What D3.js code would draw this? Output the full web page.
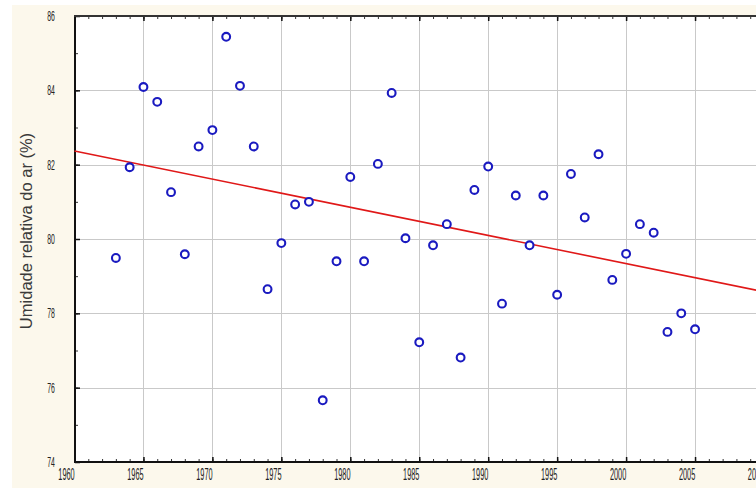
<!DOCTYPE html>
<html>
<head>
<meta charset="utf-8">
<script src="https://cdn.jsdelivr.net/npm/d3@7"></script>
<style>
  html, body { margin: 0; padding: 0; background: #ffffff; }
  svg { display: block; }
</style>
</head>
<body>
<svg id="chart" width="756" height="488"></svg>
<script>
// Annual mean relative humidity, 1963–2005
const years = [
  1963, 1964, 1965, 1966, 1967, 1968, 1969, 1970, 1971, 1972,
  1973, 1974, 1975, 1976, 1977, 1978, 1979, 1980, 1981, 1982,
  1983, 1984, 1985, 1986, 1987, 1988, 1989, 1990, 1991, 1992,
  1993, 1994, 1995, 1996, 1997, 1998, 1999, 2000, 2001, 2002,
  2003, 2004, 2005
];
const humidity = [
  79.49, 81.93, 84.09, 83.69, 81.26, 79.59, 82.49, 82.93, 85.44, 84.12,
  82.49, 78.65, 79.89, 80.93, 81.00, 75.66, 79.40, 81.67, 79.40, 82.02,
  83.93, 80.02, 77.22, 79.83, 80.40, 76.81, 81.32, 81.95, 78.26, 81.17,
  79.83, 81.17, 78.50, 81.75, 80.58, 82.28, 78.90, 79.60, 80.40, 80.17,
  77.50, 78.00, 77.57
];
// Linear trend line end points
const trendYears = [1960, 2010];
const trendValues = [82.37, 78.58];

const xTicks = [1960, 1965, 1970, 1975, 1980, 1985, 1990, 1995, 2000, 2005, 2010];
const yTicks = [74, 76, 78, 80, 82, 84, 86];
const yTitle = "Umidade relativa do ar (%)";

const svg = d3.select("#chart");
const W = 756, H = 488;
const plotLeft = 75, plotTop = 16, plotBottom = 462;

const x = d3.scaleLinear().domain([1960, 2010]).range([74.5, 764]);
const y = d3.scaleLinear().domain([74, 86]).range([plotBottom, plotTop]);

// cream panel behind everything
svg.append("rect")
  .attr("x", 12).attr("y", 5).attr("width", W - 12).attr("height", H - 5)
  .attr("fill", "#fcf8ec");

// white plotting area
svg.append("rect")
  .attr("x", plotLeft).attr("y", plotTop)
  .attr("width", W - plotLeft + 20).attr("height", plotBottom - plotTop)
  .attr("fill", "#ffffff");

// grid
const grid = svg.append("g").attr("class", "grid");
grid.selectAll("line.gx").data(xTicks.filter(t => t > 1960)).join("line")
  .attr("class", "gx")
  .attr("x1", d => Math.round(x(d)) + 0.5).attr("x2", d => Math.round(x(d)) + 0.5)
  .attr("y1", plotTop).attr("y2", plotBottom)
  .attr("stroke", "#c9c9c9").attr("stroke-width", 1);
grid.selectAll("line.gy").data(yTicks.filter(t => t > 74 && t < 86)).join("line")
  .attr("class", "gy")
  .attr("x1", plotLeft).attr("x2", W + 20)
  .attr("y1", d => Math.round(y(d)) + 0.5).attr("y2", d => Math.round(y(d)) + 0.5)
  .attr("stroke", "#c9c9c9").attr("stroke-width", 1);

// axes with inward ticks
const minorX = d3.range(1960, 2011, 1);
const minorY = d3.range(74, 87, 1);

const xBottom = svg.append("g").attr("transform", `translate(0,${plotBottom})`)
  .call(d3.axisBottom(x).tickValues(minorX).tickSize(-3).tickFormat(""));
const xTop = svg.append("g").attr("transform", `translate(0,${plotTop})`)
  .call(d3.axisTop(x).tickValues(minorX).tickSize(-3).tickFormat(""));
const yLeft = svg.append("g").attr("transform", `translate(${plotLeft},0)`)
  .call(d3.axisLeft(y).tickValues(minorY).tickSize(-3).tickFormat(""));
[xBottom, xTop, yLeft].forEach(g => {
  g.select(".domain").remove();
  g.selectAll(".tick line").attr("stroke", "#333");
});
// heavier major ticks
svg.append("g").attr("transform", `translate(0,${plotBottom})`)
  .call(d3.axisBottom(x).tickValues(xTicks).tickSize(-5).tickFormat(""))
  .call(g => g.select(".domain").remove())
  .selectAll(".tick line").attr("stroke", "#111").attr("stroke-width", 1.5);
svg.append("g").attr("transform", `translate(0,${plotTop})`)
  .call(d3.axisTop(x).tickValues(xTicks).tickSize(-5).tickFormat(""))
  .call(g => g.select(".domain").remove())
  .selectAll(".tick line").attr("stroke", "#111").attr("stroke-width", 1.5);
svg.append("g").attr("transform", `translate(${plotLeft},0)`)
  .call(d3.axisLeft(y).tickValues(yTicks).tickSize(-5).tickFormat(""))
  .call(g => g.select(".domain").remove())
  .selectAll(".tick line").attr("stroke", "#111").attr("stroke-width", 1.5);

// frame lines
svg.append("line").attr("x1", plotLeft).attr("x2", plotLeft).attr("y1", plotTop - 1).attr("y2", plotBottom + 1)
  .attr("stroke", "#111").attr("stroke-width", 2);
svg.append("line").attr("x1", plotLeft - 1).attr("x2", W + 20).attr("y1", plotBottom).attr("y2", plotBottom)
  .attr("stroke", "#111").attr("stroke-width", 2);
svg.append("line").attr("x1", plotLeft - 1).attr("x2", W + 20).attr("y1", plotTop).attr("y2", plotTop)
  .attr("stroke", "#333").attr("stroke-width", 2);

// tick labels (condensed face)
const labelFont = "'Liberation Sans', Arial, sans-serif";
svg.append("g").selectAll("text").data(xTicks).join("text")
  .attr("transform", d => `translate(${x(d) - 8},479.5) scale(0.46,1)`)
  .attr("text-anchor", "middle")
  .attr("font-family", labelFont).attr("font-size", 16)
  .attr("fill", "#222")
  .text(d => d);
svg.append("g").selectAll("text").data(yTicks).join("text")
  .attr("transform", d => `translate(51,${y(d) + 5}) scale(0.46,1)`)
  .attr("text-anchor", "middle")
  .attr("font-family", labelFont).attr("font-size", 15)
  .attr("fill", "#222")
  .text(d => d);

// y axis title
svg.append("text")
  .attr("transform", `translate(31.5,231) rotate(-90)`)
  .attr("text-anchor", "middle")
  .attr("font-family", labelFont).attr("font-size", 16.5)
  .attr("fill", "#3a3a3a")
  .text(yTitle);

// trend line
const line = d3.line().x(d => x(d[0])).y(d => y(d[1]));
svg.append("path")
  .datum(trendYears.map((t, i) => [t, trendValues[i]]))
  .attr("d", line)
  .attr("fill", "none").attr("stroke", "#e01818").attr("stroke-width", 1.6);

// observations
svg.append("g").selectAll("circle").data(years.map((t, i) => [t, humidity[i]])).join("circle")
  .attr("cx", d => x(d[0])).attr("cy", d => y(d[1]))
  .attr("r", 3.9)
  .attr("fill", "#ffffff").attr("stroke", "#1a1ac0").attr("stroke-width", 2.1);
</script>
</body>
</html>
